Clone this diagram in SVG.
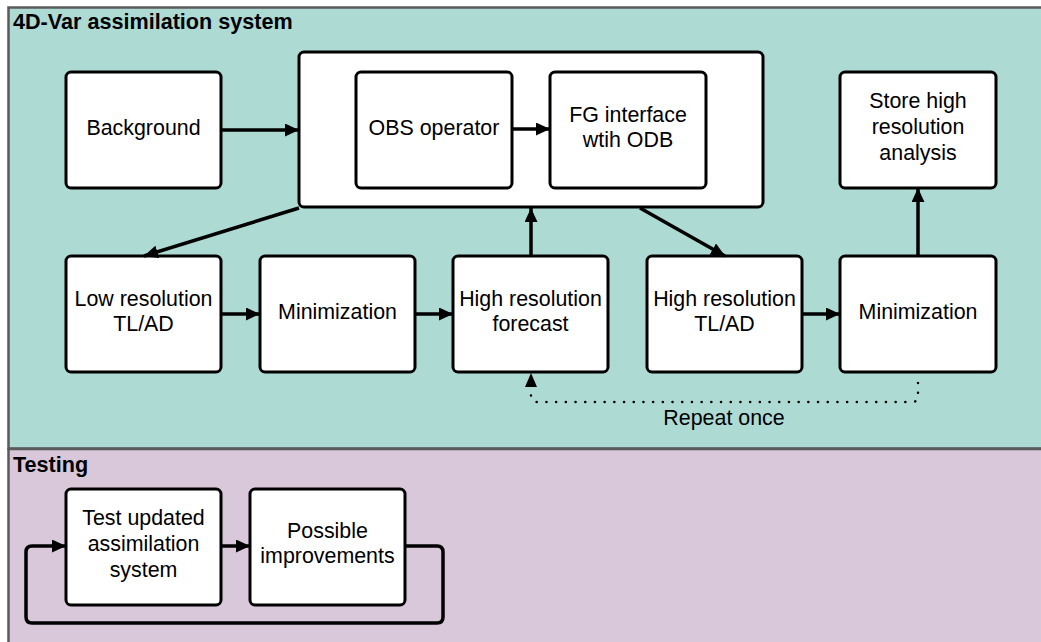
<svg xmlns="http://www.w3.org/2000/svg" width="1041" height="642" viewBox="0 0 1041 642">
<defs>
<marker id="ah" markerUnits="userSpaceOnUse" markerWidth="15" markerHeight="13" refX="14" refY="6.5" orient="auto"><path d="M0,0 L14,6.5 L0,13 z" fill="#000"/></marker>
<style>
.panel{stroke:#5a5a5a;stroke-width:2.5}
.node rect{fill:#fff;stroke:#000;stroke-width:3}
.node text, .lbl{font-family:"Liberation Sans",Arial,sans-serif;font-size:21.4px;fill:#000;text-anchor:middle}
.title{font-family:"Liberation Sans",Arial,sans-serif;font-size:21.6px;font-weight:bold;fill:#000}
.c{fill:none;stroke:#000;stroke-width:3.5}
.dot{fill:none;stroke:#000;stroke-width:2.5;stroke-dasharray:0.1 9.6;stroke-linecap:round}
</style>
</defs>
<rect class="panel" x="8.5" y="7.5" width="1040" height="441" fill="#addbd4"/>
<rect class="panel" x="8.5" y="449" width="1040" height="200" fill="#d9c7da"/>
<text class="title" x="13" y="29">4D-Var assimilation system</text>
<text class="title" x="13" y="472">Testing</text>

<g id="container" class="node"><rect x="299" y="52" width="464" height="155" rx="5"/></g>
<g id="background" class="node"><rect x="66" y="72" width="155" height="116" rx="5"/><text x="143.5" y="135">Background</text></g>
<g id="obs" class="node"><rect x="356" y="72" width="156" height="116" rx="5"/><text x="434" y="135">OBS operator</text></g>
<g id="fg" class="node"><rect x="550" y="72" width="156" height="116" rx="5"/><text x="628" y="122">FG interface</text><text x="628" y="147">wtih ODB</text></g>
<g id="store" class="node"><rect x="840" y="72" width="156" height="116" rx="5"/><text x="918" y="108">Store high</text><text x="918" y="134">resolution</text><text x="918" y="160">analysis</text></g>
<g id="lowres" class="node"><rect x="66" y="256" width="155" height="116" rx="5"/><text x="143.5" y="306">Low resolution</text><text x="143.5" y="331">TL/AD</text></g>
<g id="min1" class="node"><rect x="260" y="256" width="155" height="116" rx="5"/><text x="337.5" y="319">Minimization</text></g>
<g id="forecast" class="node"><rect x="453" y="256" width="155" height="116" rx="5"/><text x="530.5" y="306">High resolution</text><text x="530.5" y="331">forecast</text></g>
<g id="hrtlad" class="node"><rect x="647" y="256" width="155" height="116" rx="5"/><text x="724.5" y="306">High resolution</text><text x="724.5" y="331">TL/AD</text></g>
<g id="min2" class="node"><rect x="840" y="256" width="156" height="116" rx="5"/><text x="918" y="319">Minimization</text></g>
<g id="test" class="node"><rect x="66" y="489" width="155" height="116" rx="5"/><text x="143.5" y="525">Test updated</text><text x="143.5" y="551">assimilation</text><text x="143.5" y="577">system</text></g>
<g id="possible" class="node"><rect x="250" y="489" width="155" height="116" rx="5"/><text x="327.5" y="538">Possible</text><text x="327.5" y="563">improvements</text></g>

<g id="connectors">
<line class="c" x1="221" y1="130" x2="299" y2="130" marker-end="url(#ah)"/>
<line class="c" x1="512" y1="129" x2="550" y2="129" marker-end="url(#ah)"/>
<line class="c" x1="299" y1="208" x2="144" y2="256" marker-end="url(#ah)"/>
<line class="c" x1="640" y1="208" x2="725" y2="256" marker-end="url(#ah)"/>
<line class="c" x1="531" y1="256" x2="531" y2="208" marker-end="url(#ah)"/>
<line class="c" x1="918" y1="256" x2="918" y2="188" marker-end="url(#ah)"/>
<line class="c" x1="221" y1="314" x2="260" y2="314" marker-end="url(#ah)"/>
<line class="c" x1="415" y1="314" x2="453" y2="314" marker-end="url(#ah)"/>
<line class="c" x1="802" y1="314" x2="840" y2="314" marker-end="url(#ah)"/>
<path class="dot" d="M918,383 V396 Q918,402 912,402 H537 Q531,402 531,396 V388"/>
<path d="M531,373 L537,387 L525,387 z" fill="#000"/>
<text class="lbl" x="724" y="425">Repeat once</text>
<line class="c" x1="221" y1="546" x2="250" y2="546" marker-end="url(#ah)"/>
<path class="c" d="M405,546 H437 Q443,546 443,552 V617 Q443,623 437,623 H32 Q26,623 26,617 V552 Q26,546 32,546 H66" marker-end="url(#ah)"/>
</g>
</svg>
